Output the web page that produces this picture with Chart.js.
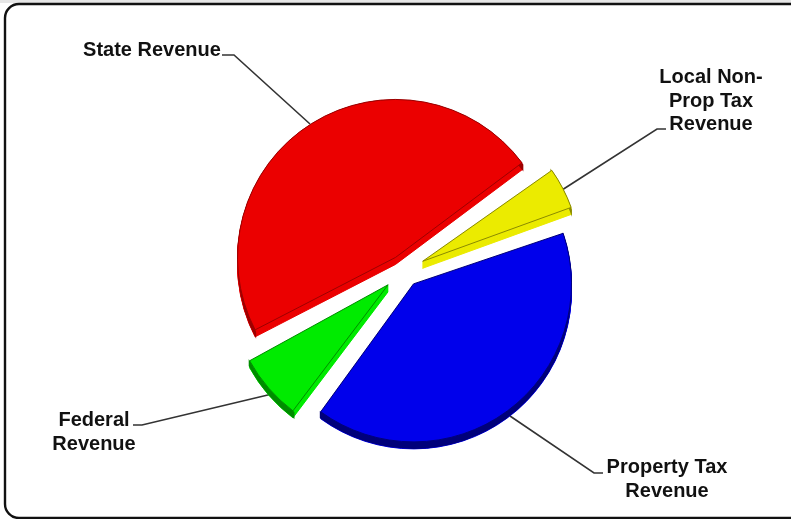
<!DOCTYPE html>
<html>
<head>
<meta charset="utf-8">
<title>Revenue</title>
<script src="https://cdn.jsdelivr.net/npm/chart.js@4/dist/chart.umd.min.js"></script>
<style>
    html, body { margin: 0; padding: 0; background: #fff; overflow: hidden; }
    canvas { display: block; }
</style>
</head>
<body>
<canvas id="dataChart" width="791" height="519"></canvas>
<script>
const categories = ['Local Non-Prop Tax Revenue', 'Property Tax Revenue', 'Federal Revenue', 'State Revenue'];
const shares = [4.7, 40.4, 7.1, 47.8];

const colors = ['#ebeb00', '#0000eb', '#00eb00', '#eb0000'];
const darkColors = ['#8a8a00', '#00007a', '#008c00', '#9c0000'];
// Chart.js draws the slice at offset / 4
const offsets = [84, 64, 84, 64];

const PIE_RADIUS = 158;
const DEPTH = 7;
const LABEL_FONT = 'bold 20px "Liberation Sans", Arial, sans-serif';

// text lines and leader line for each slice, same order as categories
const callouts = [
    { lines: ['Local Non-', 'Prop Tax', 'Revenue'], x: 711, y: 83, leader: [[666, 129], [657, 129], [562, 190]] },
    { lines: ['Property Tax', 'Revenue'], x: 667, y: 473, leader: [[603, 473], [594, 473], [510, 416]] },
    { lines: ['Federal', 'Revenue'], x: 94, y: 426, leader: [[133, 425], [142, 425], [272, 394]] },
    { lines: ['State Revenue'], x: 152, y: 56, leader: [[222, 55], [234, 55], [310, 124]] }
];

const arcGeometry = (arc, i) => {
    const mid = (arc.startAngle + arc.endAngle) / 2;
    const shift = offsets[i] / 4;
    return {
        x: arc.x + Math.cos(mid) * shift,
        y: arc.y + Math.sin(mid) * shift,
        start: arc.startAngle,
        end: arc.endAngle
    };
};

const framePlugin = {
    id: 'frame',
    beforeDraw(chart) {
        const ctx = chart.ctx;
        ctx.save();
        ctx.fillStyle = '#e6e6e6';
        ctx.fillRect(0, 0, 791, 3);
        ctx.beginPath();
        ctx.roundRect(5, 4, 800, 514, 14);
        ctx.fillStyle = '#fff';
        ctx.fill();
        ctx.lineWidth = 2.4;
        ctx.strokeStyle = '#111';
        ctx.stroke();
        ctx.restore();
    }
};

const calloutPlugin = {
    id: 'callouts',
    beforeDatasetsDraw(chart) {
        const ctx = chart.ctx;
        ctx.save();
        ctx.strokeStyle = '#333';
        ctx.lineWidth = 1.6;
        callouts.forEach((c) => {
            ctx.beginPath();
            c.leader.forEach(([x, y], k) => (k === 0 ? ctx.moveTo(x, y) : ctx.lineTo(x, y)));
            ctx.stroke();
        });
        ctx.fillStyle = '#111';
        ctx.font = LABEL_FONT;
        ctx.textAlign = 'center';
        ctx.textBaseline = 'alphabetic';
        callouts.forEach((c) => {
            c.lines.forEach((line, k) => ctx.fillText(line, c.x, c.y + k * 23.5));
        });
        ctx.restore();
    }
};

// the side walls of the slices, drawn under the chart's own arcs
const depthPlugin = {
    id: 'depth',
    beforeDatasetsDraw(chart) {
        const ctx = chart.ctx;
        const arcs = chart.getDatasetMeta(0).data;

        arcs.forEach((arc, i) => {
            // the arc grows by offset * fix when drawn, take that back so all radii match
            const shift = offsets[i] / 4;
            const fix = 1 - Math.sin(Math.min(Math.PI, arc.circumference));
            arc.outerRadius = PIE_RADIUS - shift * fix;

            const opts = arc.options;
            arc.options = Object.assign({}, opts, { backgroundColor: colors[i], borderColor: colors[i] });
            for (let d = DEPTH; d > 0; d--) {
                ctx.save();
                ctx.translate(0, d);
                arc.draw(ctx);
                ctx.restore();
            }
            arc.options = opts;

            // curved part of the wall is the dark one
            const g = arcGeometry(arc, i);
            ctx.save();
            ctx.beginPath();
            ctx.arc(g.x, g.y + DEPTH, PIE_RADIUS, g.start, g.end);
            ctx.arc(g.x, g.y, PIE_RADIUS, g.end, g.start, true);
            ctx.closePath();
            ctx.fillStyle = darkColors[i];
            ctx.fill();
            ctx.restore();
        });
    }
};

const dataChart = new Chart(document.getElementById('dataChart'), {
    type: 'pie',
    data: {
        labels: categories,
        datasets: [{
            data: shares,
            backgroundColor: colors,
            borderColor: darkColors,
            borderWidth: 1,
            offset: offsets,
            radius: PIE_RADIUS
        }]
    },
    options: {
        responsive: false,
        animation: false,
        rotation: 54,
        layout: { padding: { left: 26, right: 9, top: 23, bottom: 0 } },
        plugins: { legend: { display: false }, tooltip: { enabled: false } }
    },
    plugins: [framePlugin, calloutPlugin, depthPlugin]
});
</script>
</body>
</html>
